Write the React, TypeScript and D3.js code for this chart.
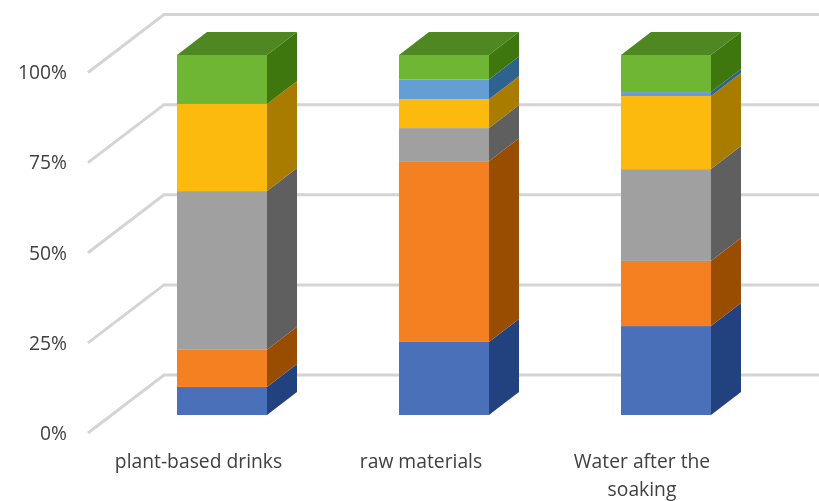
import React from "react";
import * as d3 from "d3";

const categories = ["plant-based drinks", "raw materials", "Water after the soaking"];
const categoryLines = [["plant-based drinks"], ["raw materials"], ["Water after the", "soaking"]];
const seriesNames = ["blue", "orange", "gray", "yellow", "lightblue", "green"];
const blueValues = [7.8, 20.3, 24.7];
const orangeValues = [10.3, 50.2, 18.1];
const grayValues = [44.1, 9.2, 25.5];
const yellowValues = [24.2, 8.0, 20.3];
const lightBlueValues = [0, 5.5, 1.1];
const greenValues = [13.6, 6.8, 10.3];
const allValues = [blueValues, orangeValues, grayValues, yellowValues, lightBlueValues, greenValues];
const frontColors = ["#4a6fb8", "#f58021", "#a0a0a0", "#fbba07", "#659ed5", "#70b636"];
const sideColors = ["#23437f", "#994d03", "#5f5f5f", "#a97c02", "#2f6390", "#3e7707"];
const topColor = "#4f8724";
const tickValues = [0, 25, 50, 75, 100];

const WIDTH = 819;
const HEIGHT = 501;

export default function App() {
  const yBar = d3.scaleLinear().domain([0, 100]).range([415, 55]);
  const yBack = d3.scaleLinear().domain([0, 100]).range([375, 14.5]);
  const yFront = d3.scaleLinear().domain([0, 100]).range([433, 72.5]);
  const x = d3.scaleBand().domain(categories).range([177, 711]).paddingInner(132 / 222).paddingOuter(0);
  const barW = x.bandwidth();
  const dx = 30;
  const dy = -23;
  const wallX0 = 164;
  const frontX = 88;
  const stack = d3.stack<number>().keys(seriesNames.map((_, i) => String(i))).value((i, k) => allValues[+k][i]);
  const layers = stack(categories.map((_, i) => i));
  const path = d3.line();

  return (
    <svg width={WIDTH} height={HEIGHT} style={{ position: "absolute", left: 0, top: 0, background: "#fff" }} fontFamily="'Open Sans'">
      <defs>
        <filter id="soft" x="-5%" y="-5%" width="110%" height="110%">
          <feGaussianBlur stdDeviation="0.55" />
        </filter>
      </defs>
      <g filter="url(#soft)">
        {tickValues.map((t) => (
          <path
            key={t}
            fill="none"
            stroke="#d4d4d4"
            strokeWidth={3}
            d={path([[frontX, yFront(t)], [wallX0, yBack(t)], [WIDTH, yBack(t)]]) as string}
          />
        ))}
        {categories.map((c, ci) => {
          const bx = x(c) as number;
          return (
            <g key={c}>
              {layers.map((layer, si) => {
                const [v0, v1] = layer[ci];
                if (v1 - v0 <= 0) return null;
                const y0 = yBar(v0);
                const y1 = yBar(Math.min(v1, 100));
                return (
                  <g key={si}>
                    <rect x={bx} y={y1} width={barW} height={y0 - y1} fill={frontColors[si]} />
                    <path
                      fill={sideColors[si]}
                      d={path([[bx + barW, y0], [bx + barW + dx, y0 + dy], [bx + barW + dx, y1 + dy], [bx + barW, y1]]) + "Z"}
                    />
                  </g>
                );
              })}
              <path
                fill={topColor}
                d={path([[bx, yBar(100)], [bx + dx, yBar(100) + dy], [bx + barW + dx, yBar(100) + dy], [bx + barW, yBar(100)]]) + "Z"}
              />
            </g>
          );
        })}
        {tickValues.map((t) => (
          <text key={t} x={67} y={yFront(t)} dy="0.35em" textAnchor="end" fontSize={19.3} fill="#404040">
            {t}%
          </text>
        ))}
        {categories.map((c, ci) =>
          categoryLines[ci].map((line, li) => (
            <text key={line} x={[198.5, 421, 642][ci]} y={468 + li * 28} textAnchor="middle" fontSize={19.3} fill="#404040">
              {line}
            </text>
          ))
        )}
      </g>
    </svg>
  );
}
